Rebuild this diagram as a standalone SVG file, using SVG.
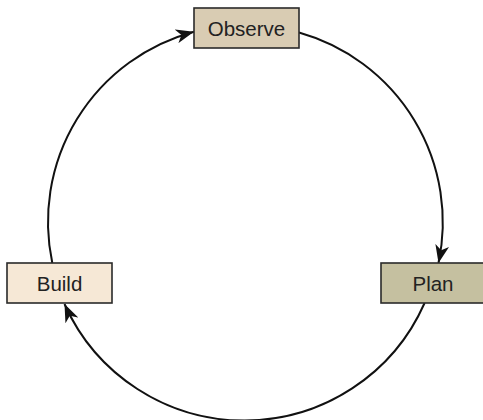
<svg xmlns="http://www.w3.org/2000/svg" width="483" height="420" viewBox="0 0 483 420">
  <defs>
    <marker id="arrow" markerUnits="userSpaceOnUse" markerWidth="18" markerHeight="14" refX="18" refY="7" orient="auto">
      <path d="M0,0 L18,7 L0,14 L5,7 z" fill="#111"/>
    </marker>
    <style>
      .edge { fill: none; stroke: #111; stroke-width: 2; marker-end: url(#arrow); }
      .box { stroke: #2a2a2a; stroke-width: 1.6; }
      .label { font-family: "Liberation Sans", Arial, sans-serif; font-size: 20.5px; fill: #222; text-anchor: middle; }
    </style>
  </defs>
  <rect width="483" height="420" fill="#ffffff"/>
  <g id="connectors">
    <path class="edge" d="M52.3,263 A197,197 0 0 1 194,31.7"/>
    <path class="edge" d="M299,32.5 A197,197 0 0 1 438.5,263"/>
    <path class="edge" d="M424.6,303 A197,197 0 0 1 64.5,304"/>
  </g>
  <g id="observe">
    <rect class="box" x="194" y="8" width="105" height="40" fill="#d9ccb3"/>
    <text class="label" x="246.5" y="35.5">Observe</text>
  </g>
  <g id="plan">
    <rect class="box" x="381" y="263" width="108" height="40" fill="#c5c0a0"/>
    <text class="label" x="433" y="290.5">Plan</text>
  </g>
  <g id="build">
    <rect class="box" x="7" y="263" width="105" height="40" fill="#f6e8d6"/>
    <text class="label" x="59.5" y="290.5">Build</text>
  </g>
</svg>
